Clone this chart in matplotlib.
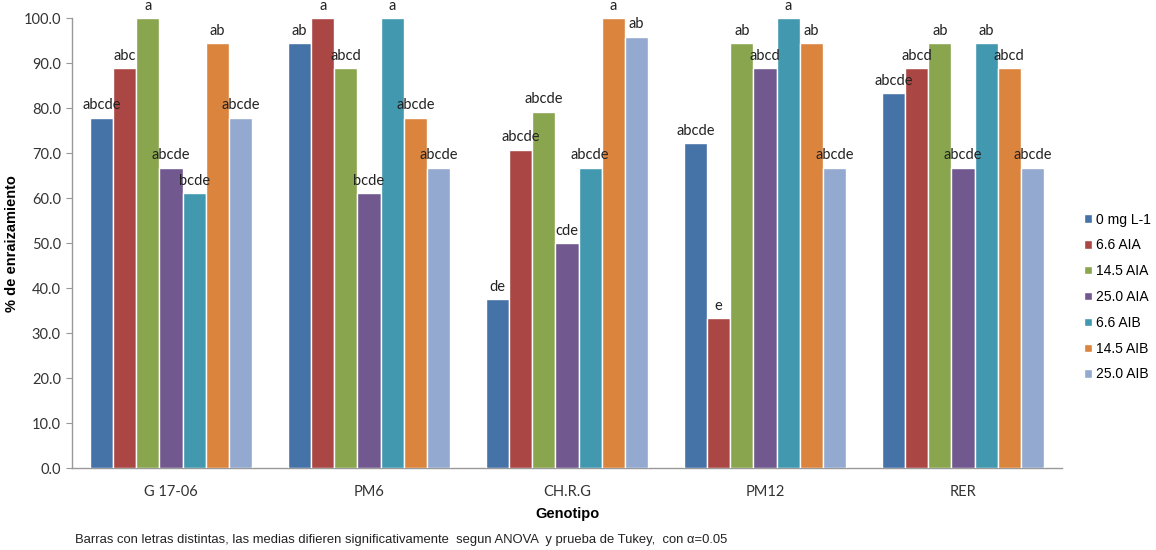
"""Porcentaje de enraizamiento por genotipo y tratamiento (AIA / AIB)."""
import matplotlib
matplotlib.use('Agg')
import matplotlib.pyplot as plt
import numpy as np

GENOTYPES = ['G 17-06', 'PM6', 'CH.R.G', 'PM12', 'RER']
TREATMENTS = ['0 mg L-1', '6.6 AIA', '14.5 AIA', '25.0 AIA', '6.6 AIB', '14.5 AIB', '25.0 AIB']

# one list per genotype, values in treatment order
VAL_G1706 = [77.8, 88.9, 100.0, 66.7, 61.1, 94.4, 77.8]
VAL_PM6 = [94.4, 100.0, 88.9, 61.1, 100.0, 77.8, 66.7]
VAL_CHRG = [37.5, 70.8, 79.2, 50.0, 66.7, 100.0, 95.8]
VAL_PM12 = [72.2, 33.3, 94.4, 88.9, 100.0, 94.4, 66.7]
VAL_RER = [83.3, 88.9, 94.4, 66.7, 94.4, 88.9, 66.7]

LET_G1706 = ['abcde', 'abc', 'a', 'abcde', 'bcde', 'ab', 'abcde']
LET_PM6 = ['ab', 'a', 'abcd', 'bcde', 'a', 'abcde', 'abcde']
LET_CHRG = ['de', 'abcde', 'abcde', 'cde', 'abcde', 'a', 'ab']
LET_PM12 = ['abcde', 'e', 'ab', 'abcd', 'a', 'ab', 'abcde']
LET_RER = ['abcde', 'abcd', 'ab', 'abcde', 'ab', 'abcd', 'abcde']

COLORS = ['#4572A7', '#AA4643', '#89A54E', '#71588F', '#4198AF', '#DB843D', '#93A9CF']

NOTE = ('Barras con letras distintas, las medias difieren significativamente  '
        'segun ANOVA  y prueba de Tukey,  con \u03b1=0.05')


def main() -> None:
    values = np.array([VAL_G1706, VAL_PM6, VAL_CHRG, VAL_PM12, VAL_RER])
    letters = [LET_G1706, LET_PM6, LET_CHRG, LET_PM12, LET_RER]

    fig = plt.figure(figsize=(11.56, 5.5), dpi=100)
    ax = fig.add_axes([0.0623, 0.149, 0.8564, 0.818])

    x = np.arange(len(GENOTYPES))
    n = len(TREATMENTS)
    group_w = 0.818
    bw = group_w / n

    for j, (name, col) in enumerate(zip(TREATMENTS, COLORS)):
        pos = x - group_w / 2 + bw * (j + 0.5)
        ax.bar(pos, values[:, j], width=bw, color=col, edgecolor='white',
               linewidth=1.0, label=name, zorder=3)
        for i, p in enumerate(pos):
            ax.annotate(letters[i][j], (p, values[i, j]), textcoords='offset points',
                        xytext=(0, 4), ha='center', va='bottom', fontsize=10.5,
                        family=['Lato', 'DejaVu Sans'], color='#222222',
                        annotation_clip=False, zorder=5)

    ax.set_xlim(-0.5, len(GENOTYPES) - 0.5)
    ax.set_ylim(0, 100)
    ax.set_yticks(np.arange(0, 101, 10))
    ax.set_yticklabels([f'{v:.1f}' for v in np.arange(0, 101, 10)],
                       family=['Lato', 'DejaVu Sans'], fontsize=10.5, color='#333333')
    ax.set_xticks(x)
    ax.set_xticklabels(GENOTYPES, family=['Lato', 'DejaVu Sans'], fontsize=10.5,
                       color='#333333')
    ax.tick_params(axis='x', length=0, pad=12)
    ax.tick_params(axis='y', length=4, color='#999999', pad=4)

    for side in ('top', 'right'):
        ax.spines[side].set_visible(False)
    for side in ('left', 'bottom'):
        ax.spines[side].set_color('#999999')
        ax.spines[side].set_linewidth(1.0)

    ax.set_ylabel('% de enraizamiento', fontsize=10.5, fontweight='bold',
                  family=['Liberation Sans', 'DejaVu Sans'], labelpad=3)
    ax.set_xlabel('Genotipo', fontsize=10.5, fontweight='bold',
                  family=['Liberation Sans', 'DejaVu Sans'], labelpad=6)

    fig.legend(loc='center left', bbox_to_anchor=(0.938, 0.46), frameon=False,
               borderpad=0, borderaxespad=0,
               handlelength=0.55, handleheight=0.55, handletextpad=0.3,
               labelspacing=0.85, prop={'family': ['Liberation Sans', 'DejaVu Sans'],
                                        'size': 10})

    fig.text(0.065, 0.013, NOTE, fontsize=9.4, color='#222222',
             family=['Liberation Sans', 'DejaVu Sans'])

    fig.savefig('out.png', dpi=100)
    plt.close(fig)


if __name__ == '__main__':
    main()
